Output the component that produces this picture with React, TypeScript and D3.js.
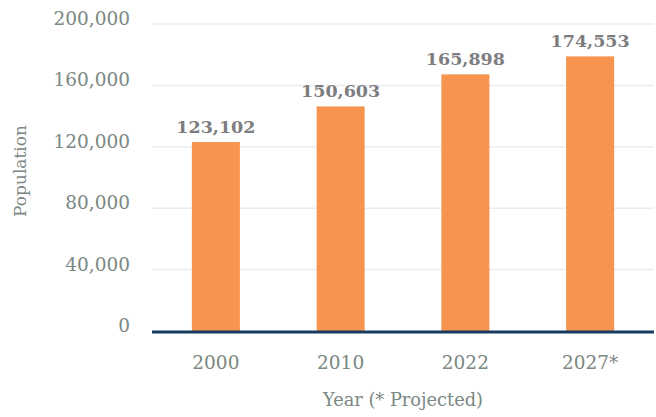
import React from "react";
import * as d3 from "d3";

const years = ["2000", "2010", "2022", "2027*"];
const barValues = [123102, 146300, 167200, 178900];
const labelTexts = ["123,102", "150,603", "165,898", "174,553"];
const yTicks = [0, 40000, 80000, 120000, 160000, 200000];

const W = 656;
const H = 417;
const FONT = "'DejaVu Serif', serif";

export default function App() {
  const x = d3.scaleBand<string>().domain(years).range([153.5, 652.5]).paddingInner(0.615).paddingOuter(0.3075);
  const y = d3.scaleLinear().domain([0, 200000]).range([331, 24]);
  const fmt = d3.format(",");
  return (
    <svg width={W} height={H} style={{ position: "absolute", left: 0, top: 0 }}>
      <rect width={W} height={H} fill="#ffffff" />
      {yTicks.map((t) => (
        <g key={t}>
          {t > 0 && (
            <line x1={152} x2={654} y1={y(t)} y2={y(t)} stroke="#ebebf0" strokeWidth={1.5} />
          )}
          <text x={130} y={y(t) + 1} textAnchor="end" fontFamily={FONT} fontSize={18.5} fill="#7b8883">
            {fmt(t)}
          </text>
        </g>
      ))}
      {years.map((yr, i) => (
        <g key={yr}>
          <rect x={x(yr)} y={y(barValues[i])} width={x.bandwidth()} height={y(0) - y(barValues[i])} fill="#f79550" />
          <text
            x={(x(yr) as number) + x.bandwidth() / 2}
            y={y(barValues[i]) - 9}
            textAnchor="middle"
            fontFamily={FONT}
            fontWeight="bold"
            fontSize={17.5}
            fill="#7d7d80"
          >
            {labelTexts[i]}
          </text>
          <text
            x={(x(yr) as number) + x.bandwidth() / 2}
            y={369}
            textAnchor="middle"
            fontFamily={FONT}
            fontSize={18.5}
            fill="#7b8883"
          >
            {yr}
          </text>
        </g>
      ))}
      <line x1={152} x2={654} y1={y(0) + 1} y2={y(0) + 1} stroke="#173a62" strokeWidth={3} />
      <text x={403} y={406} textAnchor="middle" fontFamily={FONT} fontSize={17.8} fill="#7b8883">
        Year (* Projected)
      </text>
      <text
        transform={`translate(26,171) rotate(-90)`}
        textAnchor="middle"
        fontFamily={FONT}
        fontSize={17}
        fill="#7b8883"
      >
        Population
      </text>
    </svg>
  );
}
